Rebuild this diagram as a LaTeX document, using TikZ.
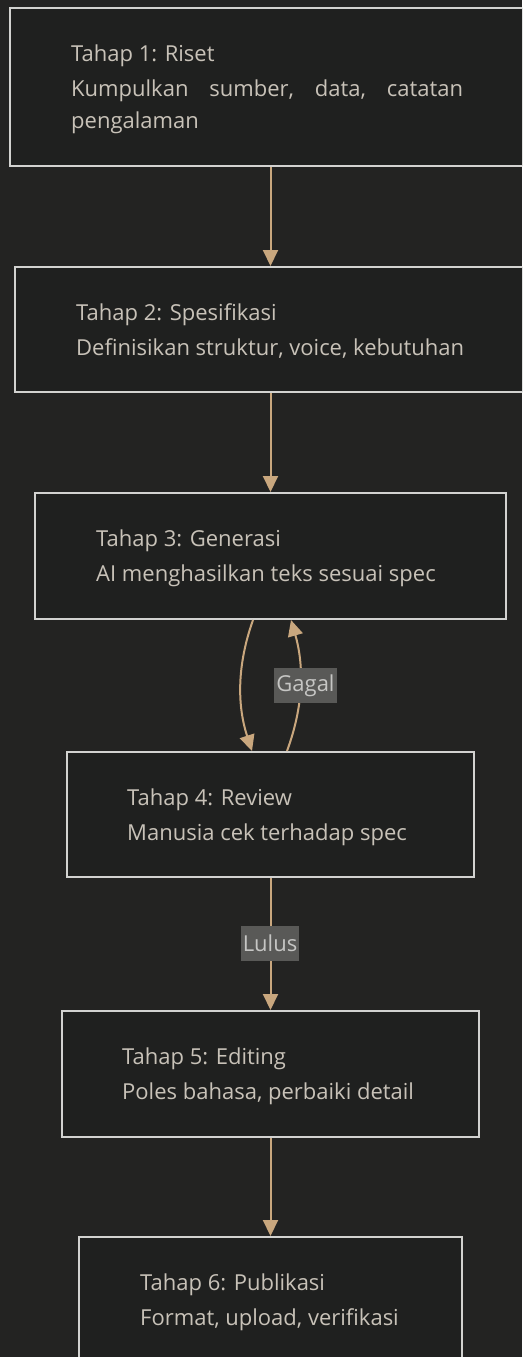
\documentclass[tikz,border=0pt]{standalone}
\usepackage{fontspec}
\setmainfont{Open Sans}
\usetikzlibrary{arrows.meta}
\definecolor{canvas}{HTML}{232322}
\definecolor{boxfill}{HTML}{1F201F}
\definecolor{boxline}{HTML}{D2D2D0}
\definecolor{ink}{HTML}{C8C2B8}
\definecolor{flow}{HTML}{C9A77E}
\definecolor{tagbg}{HTML}{595957}
\definecolor{tagink}{HTML}{C6C6C4}
\tikzset{
  stagebox/.style={draw=boxline, line width=2pt, fill=boxfill, rectangle, inner sep=0pt, anchor=north},
  stagetext/.style={text=ink, anchor=base west, inner sep=0pt, font=\fontsize{22}{26}\selectfont},
  flowline/.style={draw=flow, line width=2pt, -{Triangle[length=16pt,width=15pt]}},
  tag/.style={fill=tagbg, text=tagink, inner xsep=2pt, inner ysep=0pt, minimum height=35pt, font=\fontsize{22}{26}\selectfont}
}
\begin{document}
\begin{tikzpicture}[x=1pt,y=-1pt]
\useasboundingbox (0,0) rectangle (522,1357);
\fill[canvas] (0,0) rectangle (522,1357);
\clip (0,0) rectangle (522,1357);

% stage boxes, all centred on the same vertical axis
\node[stagebox, minimum width=521pt, minimum height=158pt] (b1) at (270.5,7) {};
\node[stagebox, minimum width=511pt, minimum height=125pt] (b2) at (270.5,266) {};
\node[stagebox, minimum width=471pt, minimum height=126pt] (b3) at (270.5,492) {};
\node[stagebox, minimum width=407pt, minimum height=125pt] (b4) at (270.5,751) {};
\node[stagebox, minimum width=417pt, minimum height=126pt] (b5) at (270.5,1010) {};
\node[stagebox, minimum width=383pt, minimum height=126pt] (b6) at (270.5,1236) {};

% stage texts
\node[stagetext] (t1a) at (71,61) {Tahap 1: Riset};
\node[stagetext] (t1b) at (71,96) {\hbox to 392pt{Kumpulkan\hfill sumber,\hfill data,\hfill catatan}};
\node[stagetext] (t1c) at (71,128) {pengalaman};

\node[stagetext] (t2a) at (76,320) {Tahap 2: Spesifikasi};
\node[stagetext] (t2b) at (76,355) {Definisikan struktur, voice, kebutuhan};

\node[stagetext] (t3a) at (96,546) {Tahap 3: Generasi};
\node[stagetext] (t3b) at (96,581) {AI menghasilkan teks sesuai spec};

\node[stagetext] (t4a) at (127,805) {Tahap 4: Review};
\node[stagetext] (t4b) at (127,840) {Manusia cek terhadap spec};

\node[stagetext] (t5a) at (122,1064) {Tahap 5: Editing};
\node[stagetext] (t5b) at (122,1099) {Poles bahasa, perbaiki detail};

\node[stagetext] (t6a) at (140,1290) {Tahap 6: Publikasi};
\node[stagetext] (t6b) at (140,1325) {Format, upload, verifikasi};

% connectors
\draw[flowline] (b1.south) -- (b2.north);
\draw[flowline] (b2.south) -- (b3.north);
\draw[flowline] ([xshift=-17.5pt]b3.south) .. controls (237,665) and (237,705) .. ([xshift=-18.5pt]b4.north);
\draw[flowline] ([xshift=16.5pt]b4.north) .. controls (304,705) and (304,665) .. ([xshift=20.5pt]b3.south);
\draw[flowline] (b4.south) -- (b5.north);
\draw[flowline] (b5.south) -- (b6.north);

% edge labels
\node[tag] (gagal) at (305.5,685.5) {Gagal};
\node[tag] (lulus) at (270,943.5) {Lulus};
\end{tikzpicture}
\end{document}
